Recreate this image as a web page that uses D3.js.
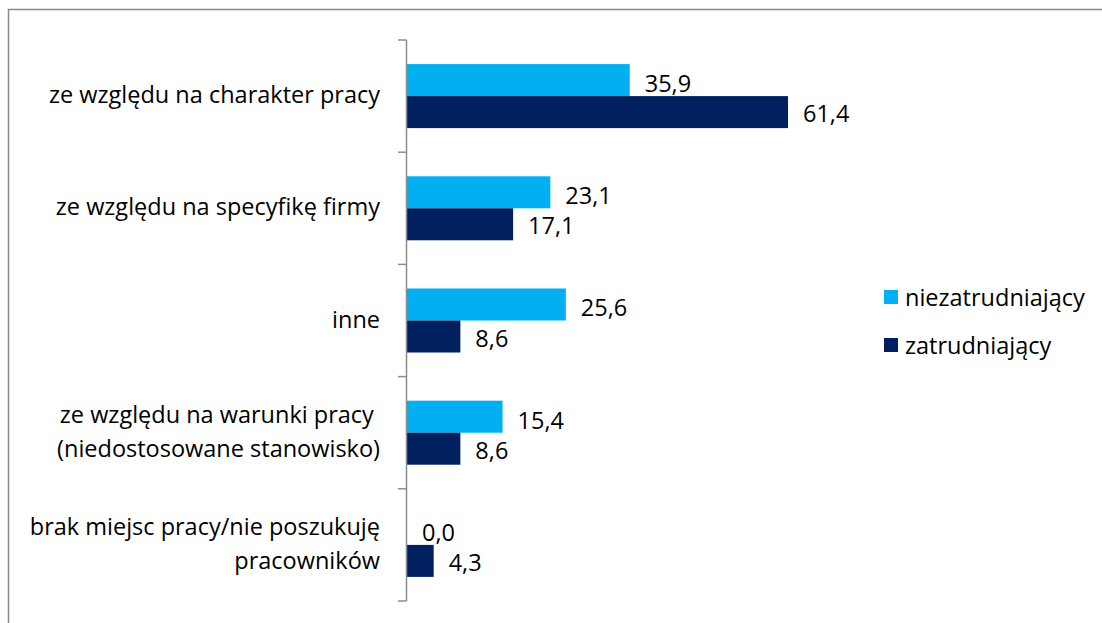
<!DOCTYPE html>
<html>
<head>
<meta charset="utf-8">
<script src="https://cdn.jsdelivr.net/npm/d3@7"></script>
<style>
  html, body { margin: 0; padding: 0; background: #fff; }
  svg { display: block; }
  text { font-family: "Open Sans", "DejaVu Sans", sans-serif; fill: #000; }
</style>
</head>
<body>
<svg id="chart" width="1102" height="623"></svg>
<script>
// Reasons given by respondents, top to bottom
const categories = [
  ["ze względu na charakter pracy"],
  ["ze względu na specyfikę firmy"],
  ["inne"],
  ["ze względu na warunki pracy ", "(niedostosowane stanowisko)"],
  ["brak miejsc pracy/nie poszukuję", "pracowników"]
];
const seriesNames = ["niezatrudniający", "zatrudniający"];
const niezatrudniajacy = [35.9, 23.1, 25.6, 15.4, 0.0];
const zatrudniajacy = [61.4, 17.1, 8.6, 8.6, 4.3];
const seriesColors = ["#00B0F0", "#002060"];

const seriesValues = [niezatrudniajacy, zatrudniajacy];
const catKeys = categories.map((c, i) => i);
const fontSize = 23.5;

const svg = d3.select("#chart");

// outer frame
svg.append("rect")
  .attr("x", 8.5).attr("y", 9.5)
  .attr("width", 1200).attr("height", 700)
  .attr("fill", "none").attr("stroke", "#8a8a8a").attr("stroke-width", 1.5);

const x = d3.scaleLinear().domain([0, 70]).range([407, 407 + 70 * 6.205]);
const y = d3.scaleBand().domain(catKeys).range([40, 601]).padding(0);
const ySub = d3.scaleBand().domain([0, 1]).range([0, y.bandwidth()])
  .paddingInner(0).paddingOuter(0.753);

const fmt = v => d3.format(".1f")(v).replace(".", ",");

// bars
seriesValues.forEach((vals, s) => {
  svg.append("g").selectAll("rect")
    .data(vals)
    .join("rect")
    .attr("x", x(0))
    .attr("y", (d, i) => y(i) + ySub(s))
    .attr("width", d => x(d) - x(0))
    .attr("height", ySub.bandwidth())
    .attr("fill", seriesColors[s]);
});

// value labels
seriesValues.forEach((vals, s) => {
  svg.append("g").selectAll("text")
    .data(vals)
    .join("text")
    .attr("x", d => x(d) + 15)
    .attr("y", (d, i) => y(i) + ySub(s) + ySub.bandwidth() / 2 + (s === 0 ? 3 : 1))
    .attr("dominant-baseline", "central")
    .attr("font-size", fontSize)
    .text(d => fmt(d));
});

// vertical category axis with ticks on band boundaries
const axisG = svg.append("g").attr("stroke", "#8c8c8c").attr("stroke-width", 1.5);
axisG.append("line")
  .attr("x1", x(0) - 0.5).attr("x2", x(0) - 0.5)
  .attr("y1", y.range()[0]).attr("y2", y.range()[1]);
const tickPos = catKeys.map(k => y(k)).concat([y.range()[1]]);
axisG.selectAll("line.tick")
  .data(tickPos)
  .join("line")
  .attr("class", "tick")
  .attr("x1", x(0) - 9).attr("x2", x(0) - 0.5)
  .attr("y1", d => d).attr("y2", d => d);

// category labels
const lineH = 34;
const labG = svg.append("g");
categories.forEach((lines, i) => {
  const cy = y(i) + y.bandwidth() / 2 - 2;
  const t = labG.append("text")
    .attr("text-anchor", "end")
    .attr("font-size", fontSize)
    .style("white-space", "pre");
  lines.forEach((ln, j) => {
    t.append("tspan")
      .attr("x", 380)
      .attr("y", cy + (j - (lines.length - 1) / 2) * lineH)
      .attr("dominant-baseline", "central")
      .text(ln);
  });
});

// legend
const legend = svg.append("g");
seriesNames.forEach((name, s) => {
  const cy = 297 + s * 48;
  legend.append("rect")
    .attr("x", 884).attr("y", cy - 7)
    .attr("width", 14).attr("height", 14)
    .attr("fill", seriesColors[s]);
  legend.append("text")
    .attr("x", 905).attr("y", cy)
    .attr("dominant-baseline", "central")
    .attr("font-size", fontSize)
    .text(name);
});
</script>
</body>
</html>
